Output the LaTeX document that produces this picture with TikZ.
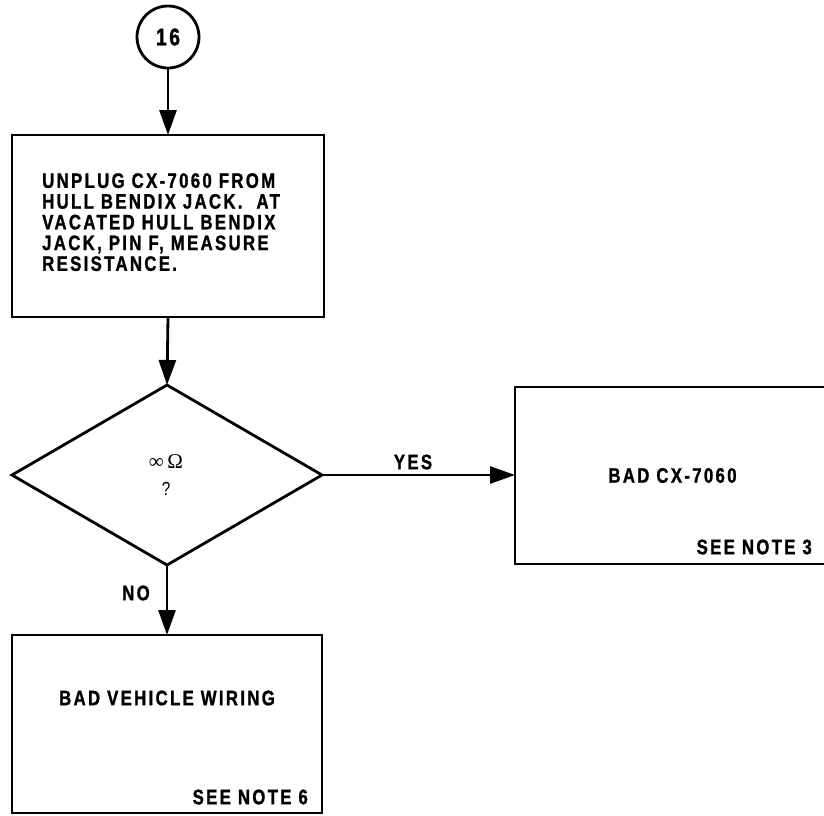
\documentclass[tikz,border=0pt]{standalone}
\usepackage{fontspec}
\setmainfont{Liberation Sans}[LetterSpace=11, FakeStretch=0.8, BoldFeatures={FakeBold=1.2}]
\newfontfamily\symfont{Liberation Serif}
\usetikzlibrary{arrows.meta,shapes.geometric}
\tikzset{
  x=1pt, y=-1pt,
  line/.style={line width=2.8pt},
  box/.style={line, draw, inner sep=0pt, outer sep=0pt},
  txt/.style={font=\fontsize{21}{20.75}\selectfont\bfseries, inner sep=0pt},
  arr/.style={line, -{Triangle[length=25pt,width=17pt]}},
}
\begin{document}
\begin{tikzpicture}
\useasboundingbox (0,0) rectangle (824,815);
% start connector
\node[line, draw, circle, minimum size=62pt, inner sep=0pt, outer sep=0pt,
      font=\fontsize{24}{26}\selectfont\bfseries] (c16) at (168,37) {16};
% step box
\node[box, minimum width=312pt, minimum height=182pt] (b1) at (168,226) {};
\node[txt, align=left, anchor=north west] (t1) at (42,173)
  {UNPLUG CX-7060 FROM\\HULL BENDIX JACK.\ \ AT\\VACATED HULL BENDIX\\JACK, PIN F, MEASURE\\RESISTANCE.};
% decision
\node[line, draw, diamond, minimum width=310pt, minimum height=180pt, inner sep=0pt, outer sep=0pt] (dia) at (167,475) {};
\node[font=\symfont\fontsize{21}{22}\selectfont, inner sep=0pt] (ohm) at (166,462) {∞\,Ω};
\node[font=\fontsize{19}{19}\selectfont, inner sep=0pt] (q) at (166,489) {?};
% yes box
\node[box, txt, minimum width=315pt, minimum height=177pt] (b2) at (672.5,475.5) {BAD CX-7060};
\node[txt, anchor=east] (n3) at (812,547) {SEE NOTE 3};
% no box
\node[box, minimum width=310pt, minimum height=178pt] (b3) at (167,724) {};
\node[txt] (w3) at (167,698) {BAD VEHICLE WIRING};
\node[txt, anchor=east] (n6) at (308,797) {SEE NOTE 6};
% connectors
\draw[arr] (c16.south) -- (c16.south |- b1.north);
\draw[arr] (b1.south) -- (dia.north);
\draw[arr] (dia.east) -- (dia.east -| b2.west);
\node[txt] (yes) at (413,462) {YES};
\draw[arr] (dia.south) -- (b3.north);
\node[txt] (no) at (136,593) {NO};
\end{tikzpicture}
\end{document}
